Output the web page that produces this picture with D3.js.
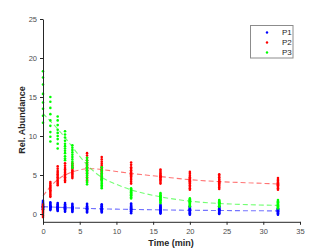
<!DOCTYPE html>
<html>
<head>
<meta charset="utf-8">
<script src="https://cdn.jsdelivr.net/npm/d3@7"></script>
<style>
  body { margin: 0; background: #fff; }
  svg { display: block; font-family: "Liberation Sans", Arial, sans-serif; }
</style>
</head>
<body>
<svg width="332" height="249"></svg>
<script>
// sampling times (min)
const times = [0, 1, 2, 3, 4, 6, 8, 12, 16, 20, 24, 32];

// replicate values at each time
const p1 = [
  [1.7, 1.55, 1.4, 1.3, 1.2, 1.1, 1.0, 0.95, 0.9, 0.85, 0.8, 0.7, 0.6],
  [1.5, 1.35, 1.2, 1.1, 1.0, 0.95, 0.9, 0.85, 0.8, 0.7, 0.6, 0.5],
  [1.4, 1.25, 1.1, 1.0, 0.9, 0.85, 0.8, 0.75, 0.7, 0.6, 0.5, 0.4],
  [1.4, 1.25, 1.1, 1.0, 0.9, 0.85, 0.8, 0.75, 0.7, 0.6, 0.5, 0.4, 0.3],
  [1.3, 1.15, 1.0, 0.9, 0.85, 0.8, 0.75, 0.7, 0.6, 0.5, 0.4, 0.25],
  [1.3, 1.15, 1.0, 0.9, 0.8, 0.75, 0.7, 0.65, 0.6, 0.5, 0.4, 0.3, 0.2],
  [1.25, 1.1, 1.0, 0.9, 0.8, 0.7, 0.65, 0.6, 0.55, 0.45, 0.35, 0.2],
  [1.35, 1.2, 1.05, 0.95, 0.85, 0.75, 0.65, 0.6, 0.55, 0.45, 0.35, 0.25, 0.1],
  [1.2, 1.05, 0.95, 0.85, 0.75, 0.65, 0.55, 0.5, 0.45, 0.35, 0.25, 0.15, 0.05],
  [1.0, 0.9, 0.8, 0.7, 0.6, 0.55, 0.5, 0.45, 0.4, 0.3, 0.2, 0.1, 0.0, -0.1],
  [1.0, 0.9, 0.8, 0.7, 0.6, 0.55, 0.5, 0.45, 0.4, 0.3, 0.2, 0.1, 0.0],
  [0.75, 0.65, 0.6, 0.55, 0.5, 0.45, 0.4, 0.35, 0.3, 0.2, 0.1, 0.0, -0.1]
];
const p2 = [
  [1.2, 1.0, 0.8, 0.6, 0.45, 0.3, 0.15, 0.0, -0.2, -0.4],
  [4.1, 3.9, 3.7, 3.5, 3.35, 3.2, 3.05, 2.9, 2.7, 2.5, 2.3, 2.2],
  [6.1, 5.8, 5.5, 5.3, 5.1, 4.9, 4.7, 4.5, 4.3, 4.1, 3.9, 3.7],
  [6.5, 6.2, 5.9, 5.7, 5.5, 5.3, 5.1, 4.9, 4.7, 4.5, 4.3, 4.1],
  [6.5, 6.25, 6.0, 5.8, 5.6, 5.45, 5.3, 5.15, 5.0, 4.8, 4.6],
  [7.8, 7.5, 7.2, 6.9, 6.6, 6.4, 6.2, 6.0, 5.8, 5.6, 5.4, 5.2, 4.9, 4.6, 4.3, 4.1],
  [7.3, 7.0, 6.7, 6.45, 6.2, 6.0, 5.8, 5.6, 5.4, 5.2, 5.0, 4.8, 4.6, 4.4],
  [6.6, 6.3, 6.0, 5.8, 5.6, 5.4, 5.25, 5.1, 4.95, 4.8, 4.6, 4.4, 4.15, 3.9],
  [5.7, 5.5, 5.3, 5.15, 5.0, 4.9, 4.8, 4.7, 4.6, 4.45, 4.3, 4.1, 3.9],
  [5.4, 5.15, 4.9, 4.7, 4.55, 4.4, 4.3, 4.2, 4.05, 3.9, 3.7, 3.5, 3.3, 3.1],
  [5.1, 4.9, 4.7, 4.5, 4.35, 4.2, 4.1, 4.0, 3.9, 3.75, 3.6, 3.4, 3.2],
  [4.6, 4.4, 4.25, 4.1, 4.0, 3.9, 3.8, 3.7, 3.6, 3.45, 3.3, 3.1]
];
const p3 = [
  [18.3, 17.5, 16.6, 15.4, 14.3, 13.5, 12.6, 11.7],
  [15.0, 14.4, 13.6, 12.8, 12.0, 11.3, 10.5, 9.9, 9.3],
  [12.5, 12.0, 11.4, 10.8, 10.4, 10.0, 9.6, 9.0, 8.4],
  [10.6, 10.2, 9.8, 9.4, 9.0, 8.7, 8.4, 8.1, 7.8, 7.4, 7.1, 6.9],
  [8.8, 8.5, 8.2, 7.9, 7.6, 7.3, 7.0, 6.7, 6.4, 6.1, 5.9],
  [7.2, 6.9, 6.6, 6.3, 6.0, 5.8, 5.6, 5.4, 5.2, 5.0, 4.7, 4.4, 4.1, 3.8],
  [6.0, 5.7, 5.45, 5.2, 5.0, 4.8, 4.6, 4.45, 4.3, 4.1, 3.9, 3.7, 3.5, 3.3],
  [3.3, 3.15, 3.0, 2.9, 2.8, 2.7, 2.6, 2.5, 2.4, 2.3, 2.15, 2.0],
  [2.7, 2.55, 2.4, 2.3, 2.2, 2.1, 2.0, 1.9, 1.8, 1.7, 1.55, 1.4],
  [2.0, 1.9, 1.8, 1.7, 1.65, 1.6, 1.5, 1.4, 1.3, 1.2, 1.1, 0.95],
  [1.8, 1.7, 1.6, 1.5, 1.45, 1.4, 1.35, 1.3, 1.2, 1.1, 1.0, 0.95],
  [1.8, 1.65, 1.5, 1.4, 1.3, 1.2, 1.15, 1.1, 1.0, 0.9, 0.8, 0.7]
];

// fitted curves
const fitT  = [0, 1, 2, 3, 4, 5, 6, 7, 8, 10, 12, 14, 16, 20, 24, 28, 32];
const fitP1 = [0.95, 0.9, 0.86, 0.82, 0.78, 0.75, 0.72, 0.69, 0.66, 0.62, 0.59, 0.56, 0.53, 0.48, 0.45, 0.42, 0.4];
const fitP2 = [2.3, 3.5, 4.4, 5.0, 5.4, 5.65, 5.8, 5.8, 5.7, 5.45, 5.2, 5.0, 4.8, 4.4, 4.15, 4.0, 3.85];
const fitP3 = [12.9, 11.9, 10.9, 9.8, 8.6, 7.4, 6.3, 5.4, 4.7, 3.8, 3.1, 2.6, 2.2, 1.65, 1.35, 1.2, 1.1];

const names = ["P1", "P2", "P3"];
const xTicks = [0, 5, 10, 15, 20, 25, 30, 35];
const yTicks = [0, 5, 10, 15, 20, 25];

const colors = ["#0000ff", "#ff0000", "#00ff00"];
const series = [
  { name: names[0], reps: p1, fit: fitP1 },
  { name: names[1], reps: p2, fit: fitP2 },
  { name: names[2], reps: p3, fit: fitP3 }
];

const svg = d3.select("svg");

const x = d3.scaleLinear().domain([0, 35]).range([43, 300]);
const y = d3.scaleLinear().domain([-1, 25]).range([221.8, 19]);

// fit lines
const line = d3.line()
  .x((d, i) => x(fitT[i]))
  .y(d => y(d))
  .curve(d3.curveMonotoneX);

series.forEach((s, k) => {
  svg.append("path")
    .datum(s.fit)
    .attr("d", line)
    .attr("fill", "none")
    .attr("stroke", colors[k])
    .attr("stroke-opacity", 0.55)
    .attr("stroke-width", 1.1)
    .attr("stroke-dasharray", "5,3");
});

// replicate dots
series.forEach((s, k) => {
  const pts = [];
  s.reps.forEach((vals, i) => vals.forEach(v => pts.push([times[i], v])));
  svg.append("g")
    .selectAll("circle")
    .data(pts)
    .enter()
    .append("circle")
    .attr("cx", d => x(d[0]))
    .attr("cy", d => y(d[1]))
    .attr("r", 1.3)
    .attr("fill", colors[k]);
});

// axes
const xAxis = d3.axisBottom(x).tickValues(xTicks).tickSize(3).tickSizeOuter(0);
const yAxis = d3.axisLeft(y).tickValues(yTicks).tickSize(3).tickSizeOuter(0);

const gx = svg.append("g")
  .attr("transform", "translate(0,221.8)")
  .call(xAxis);
const gy = svg.append("g")
  .attr("transform", "translate(43,0)")
  .call(yAxis);

[gx, gy].forEach(g => {
  g.select(".domain").attr("stroke", "#262626");
  g.selectAll(".tick line").attr("stroke", "#262626");
  g.selectAll(".tick text")
    .attr("fill", "#4d4d4d")
    .style("font-size", "7.5px")
    .style("font-family", "Liberation Sans, Arial, sans-serif");
});
gx.selectAll(".tick text").attr("dy", "0.85em");

// axis labels
svg.append("text")
  .attr("x", 171)
  .attr("y", 245.5)
  .attr("text-anchor", "middle")
  .style("font-size", "9px")
  .style("font-weight", "bold")
  .attr("fill", "#262626")
  .text("Time (min)");

svg.append("text")
  .attr("transform", "translate(25,120) rotate(-90)")
  .attr("text-anchor", "middle")
  .style("font-size", "9px")
  .style("font-weight", "bold")
  .attr("fill", "#262626")
  .text("Rel. Abundance");

// legend
const legend = svg.append("g");
legend.append("rect")
  .attr("x", 250.5)
  .attr("y", 25.5)
  .attr("width", 42.5)
  .attr("height", 32.5)
  .attr("fill", "#fff")
  .attr("stroke", "#8c8c8c")
  .attr("stroke-width", 1);

series.forEach((s, k) => {
  const ly = 32.5 + k * 10;
  legend.append("circle")
    .attr("cx", 267)
    .attr("cy", ly)
    .attr("r", 1.2)
    .attr("fill", colors[k]);
  legend.append("text")
    .attr("x", 282)
    .attr("y", ly)
    .attr("dy", "0.35em")
    .style("font-size", "8px")
    .attr("fill", "#262626")
    .text(s.name);
});
</script>
</body>
</html>
